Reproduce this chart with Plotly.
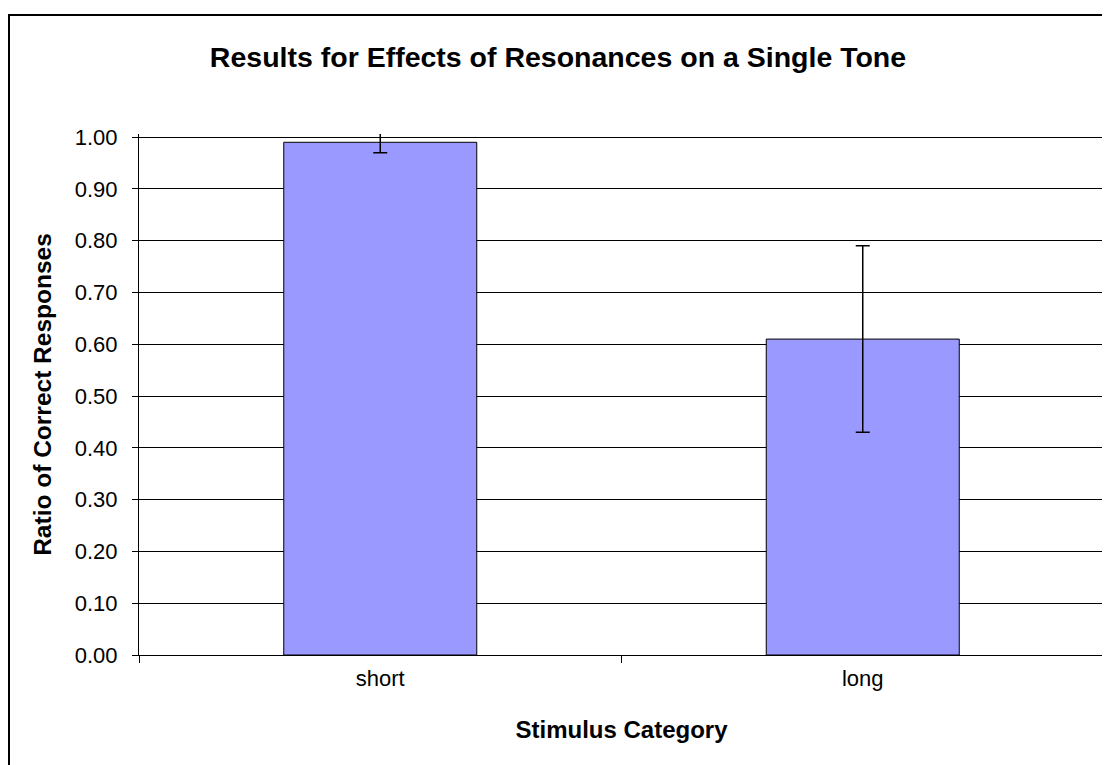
import plotly.graph_objects as go

categories = ["short", "long"]
values = [0.99, 0.61]
errors = [0.02, 0.18]
y_ticks = [0.0, 0.1, 0.2, 0.3, 0.4, 0.5, 0.6, 0.7, 0.8, 0.9, 1.0]

# page body adds an 8px offset; figure is sized to fit the window
W, H = 1102, 757
L, R, T, B = 131, 6, 126, 110
pw, ph = W - L - R, H - T - B

fig = go.Figure()
fig.add_trace(go.Bar(
    x=categories, y=values,
    marker=dict(color="#9999FF", line=dict(color="black", width=1)),
    error_y=dict(type="data", array=errors, visible=True, color="black", thickness=1.5, width=7),
    width=0.4,
))

def px_x(p):
    return (p - L) / pw

def px_y(p):
    return (H - B - p) / ph

shapes = [
    dict(type="rect", xref="paper", yref="paper",
         x0=px_x(1), x1=px_x(1130), y0=px_y(790), y1=px_y(7),
         line=dict(color="black", width=2), fillcolor="rgba(0,0,0,0)", layer="below"),
    dict(type="line", xref="paper", yref="paper", x0=1, x1=1, y0=0, y1=1,
         line=dict(color="#808080", width=2)),
]

fig.update_layout(
    width=W, height=H,
    margin=dict(l=L, r=R, t=T, b=B, pad=0),
    paper_bgcolor="white", plot_bgcolor="white",
    showlegend=False,
    font=dict(family="Liberation Sans, Arial, sans-serif", color="black", size=22),
    title=dict(text="<b>Results for Effects of Resonances on a Single Tone</b>",
               x=(558 - 8) / W, xanchor="center", xref="container",
               y=1 - 49 / H, yanchor="middle",
               font=dict(size=28.5)),
    shapes=shapes,
    xaxis=dict(
        type="category", showgrid=False, showline=True, linecolor="black", linewidth=1,
        ticks="outside", tickson="boundaries", ticklen=7, tickcolor="black",
        tickfont=dict(size=22), ticklabelstandoff=4,
        title=dict(text="<b>Stimulus Category</b>", font=dict(size=24), standoff=30),
        range=[-0.5, 1.5],
    ),
    yaxis=dict(
        range=[0, 1.006], tickvals=y_ticks, ticktext=[f"{v:.2f}" for v in y_ticks],
        showgrid=True, gridcolor="black", gridwidth=1,
        showline=True, linecolor="black", linewidth=1,
        ticks="outside", ticklen=6, tickcolor="black",
        tickfont=dict(size=22), zeroline=False, ticklabelstandoff=10,
        title=dict(text="<b>Ratio of Correct Responses</b>", font=dict(size=24.5), standoff=16),
    ),
)

fig.write_html("out.html")
